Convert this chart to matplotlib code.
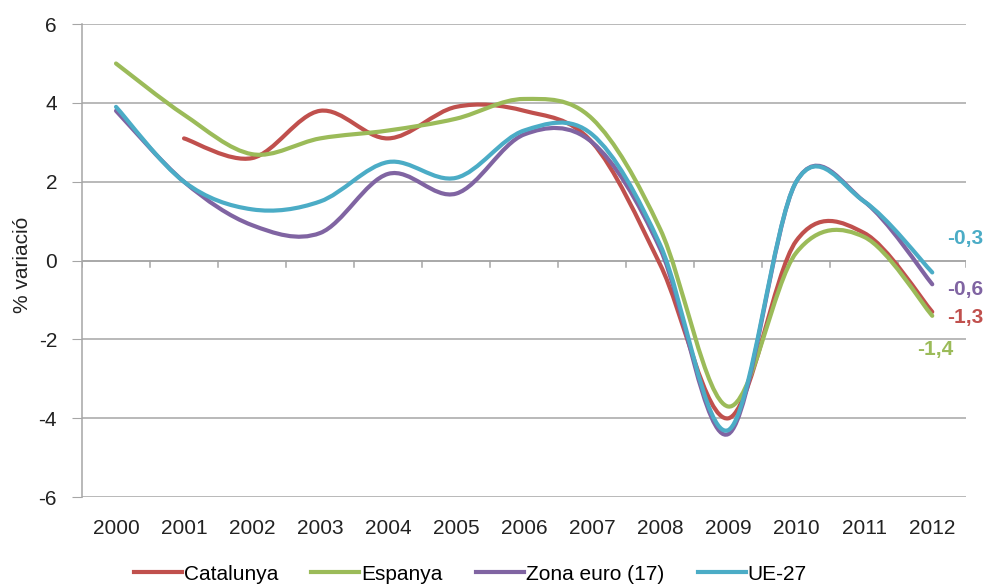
import numpy as np
import matplotlib.pyplot as plt
from matplotlib.path import Path
from matplotlib.patches import PathPatch
from matplotlib.lines import Line2D

plt.rcParams['font.family'] = ['Liberation Sans', 'DejaVu Sans']
plt.rcParams['axes.unicode_minus'] = False

years = ['2000', '2001', '2002', '2003', '2004', '2005', '2006',
         '2007', '2008', '2009', '2010', '2011', '2012']
catalunya = [np.nan, 3.1, 2.6, 3.8, 3.1, 3.9, 3.8, 3.0, -0.1, -4.0, 0.5, 0.7, -1.3]
espanya = [5.0, 3.7, 2.7, 3.1, 3.3, 3.6, 4.1, 3.6, 0.8, -3.7, 0.2, 0.6, -1.4]
zona_euro = [3.8, 2.0, 0.9, 0.7, 2.2, 1.7, 3.2, 3.0, 0.3, -4.4, 2.0, 1.5, -0.6]
ue27 = [3.9, 2.0, 1.3, 1.5, 2.5, 2.1, 3.3, 3.2, 0.4, -4.3, 2.0, 1.5, -0.3]

names = ['Catalunya', 'Espanya', 'Zona euro (17)', 'UE-27']
colors = ['#C0504D', '#9BBB59', '#8064A2', '#4BACC6']
end_labels = ['-1,3', '-1,4', '-0,6', '-0,3']
label_pos = [(12.22, -1.44), (11.78, -2.26), (12.22, -0.72), (12.22, 0.56)]


def smooth_path(xs, ys):
    # Excel-style smoothed line: cubic Bezier through every point
    pts = [(x, y) for x, y in zip(xs, ys) if not np.isnan(y)]
    p = np.array(pts, dtype=float)
    n = len(p)
    verts = [p[0]]
    codes = [Path.MOVETO]
    for i in range(n - 1):
        p0 = p[i - 1] if i > 0 else p[i]
        p3 = p[i + 2] if i + 2 < n else p[i + 1]
        c1 = p[i] + (p[i + 1] - p0) / 6
        c2 = p[i + 1] - (p3 - p[i]) / 6
        verts += [c1, c2, p[i + 1]]
        codes += [Path.CURVE4] * 3
    return Path(verts, codes)


fig = plt.figure(figsize=(9.88, 5.87), dpi=100)
ax = fig.add_axes([0.083, 0.153, 0.895, 0.806])

x = np.arange(len(years))
for vals, col in zip([catalunya, espanya, zona_euro, ue27], colors):
    ax.add_patch(PathPatch(smooth_path(x, vals), fill=False, edgecolor=col,
                           lw=3.0, capstyle='round', joinstyle='round', zorder=3))

for txt, col, (tx, ty) in zip(end_labels, colors, label_pos):
    ax.text(tx, ty, txt, color=col, fontsize=15, fontweight='bold',
            ha='left', va='center', zorder=4, clip_on=False)

ax.set_xlim(-0.5, 12.5)
ax.set_ylim(-6, 6)
ax.set_yticks(range(-6, 7, 2))
ax.set_xticks(x)
ax.set_xticklabels(years)
ax.tick_params(axis='x', length=0, pad=16, labelsize=15, labelcolor='#222222')
ax.tick_params(axis='y', length=7, color='#A6A6A6', labelsize=15,
               labelcolor='#222222', pad=11)
ax.grid(axis='y', color='#A6A6A6', lw=1.1, zorder=1)
for s in ['top', 'right', 'bottom']:
    ax.spines[s].set_visible(False)
ax.spines['left'].set_color('#A6A6A6')
ax.spines['left'].set_linewidth(1.1)
ax.set_ylabel('% variació', fontsize=15, color='#222222')
ax.yaxis.set_label_coords(-0.056, 0.49)

# category axis crossing at zero, with tick marks between categories
ax.axhline(0, color='#A6A6A6', lw=1.1, zorder=2)
for b in np.arange(-0.5, 12.6, 1):
    ax.plot([b, b], [0, -0.16], color='#A6A6A6', lw=1.1, zorder=2)

handles = [Line2D([], [], color=c, lw=3.0) for c in colors]
fig.legend(handles, names, loc='center', bbox_to_anchor=(0.476, 0.022),
           ncol=4, frameon=False, fontsize=15, handlelength=2.3,
           columnspacing=1.6, handletextpad=0.1)

fig.savefig('out.png', dpi=100)
